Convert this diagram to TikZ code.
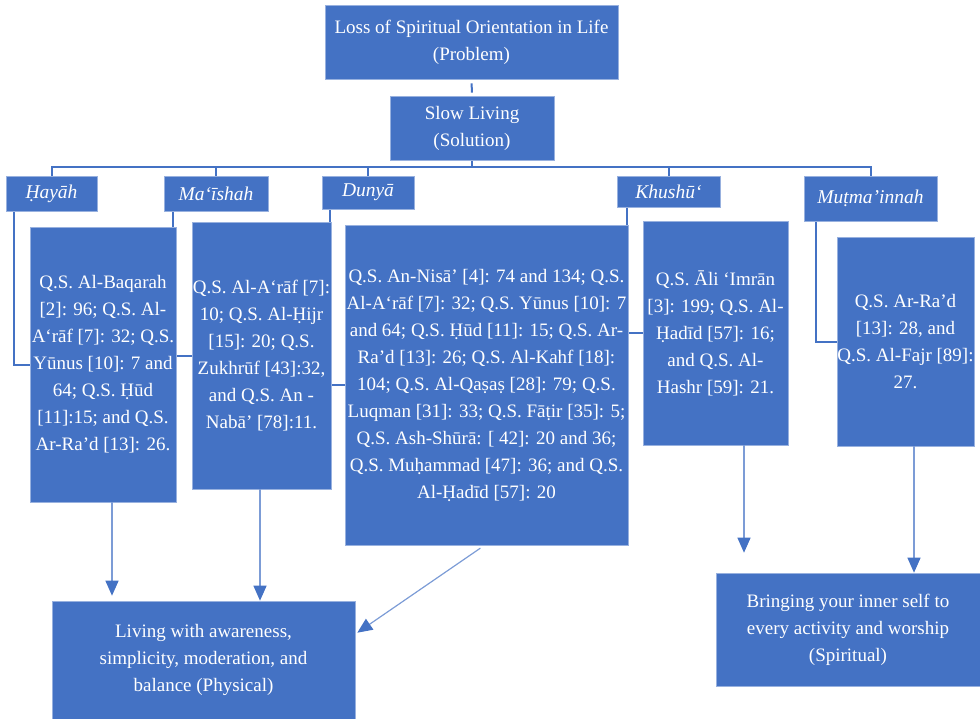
\documentclass[tikz,border=0pt]{standalone}
\usepackage{fontspec}
\setmainfont{Liberation Serif}
\usetikzlibrary{arrows.meta,calc,backgrounds}
\definecolor{boxblue}{HTML}{4472C4}
\begin{document}
\begin{tikzpicture}[x=1pt,y=-1pt,
  blk/.style={fill=boxblue, draw=boxblue!55!white, line width=0.6pt, text=white, align=center, inner sep=0pt, font=\fontsize{19}{27}\selectfont},
  cat/.style={blk, font=\fontsize{19.5}{27}\selectfont\itshape},
  conn/.style={draw=boxblue, line width=2pt},
  arr/.style={draw=boxblue!70!white, line width=1.2pt, -{Triangle[length=15pt,width=13pt,color=boxblue]}}]
\useasboundingbox (0,0) rectangle (980,718);
% top level
\node[blk, minimum width=293pt, minimum height=74pt] (top) at (471.5,42) {Loss of Spiritual Orientation in Life\\(Problem)};
\node[blk, minimum width=164pt, minimum height=64pt] (slow) at (472,128) {Slow Living\\(Solution)};
% categories
\node[cat, minimum width=91pt, minimum height=35pt] (hayah) at (51.5,193.5) {Ḥayāh};
\node[cat, minimum width=104pt, minimum height=35pt] (maishah) at (216,193.5) {Ma‘īshah};
\node[cat, minimum width=92pt, minimum height=33pt] (dunya) at (368,192.5) {Dunyā};
\node[cat, minimum width=103pt, minimum height=31pt] (khushu) at (668.5,191.5) {Khushū‘};
\node[cat, minimum width=133pt, minimum height=45pt] (mutma) at (870.5,198.5) {Muṭma’innah};
% verse boxes
\node[blk, minimum width=146pt, minimum height=275pt] (b1) at (103,364.5) {Q.S. Al-Baqarah\\{}[2]: 96; Q.S. Al-\\A‘rāf [7]: 32; Q.S.\\Yūnus [10]: 7 and\\64; Q.S. Ḥūd\\{}[11]:15; and Q.S.\\Ar-Ra'd [13]: 26.};
\node[blk, minimum width=139pt, minimum height=267pt] (b2) at (261.5,355.5) {Q.S. Al-A‘rāf [7]:\\10; Q.S. Al-Ḥijr\\{}[15]: 20; Q.S.\\Zukhrūf [43]:32,\\and Q.S. An -\\Nabā’ [78]:11.};
\node[blk, minimum width=283pt, minimum height=320pt] (b3) at (486.5,385) {Q.S. An-Nisā’ [4]: 74 and 134; Q.S.\\Al-A‘rāf [7]: 32; Q.S. Yūnus [10]: 7\\and 64; Q.S. Ḥūd [11]: 15; Q.S. Ar-\\Ra'd [13]: 26; Q.S. Al-Kahf [18]:\\104; Q.S. Al-Qaṣaṣ [28]: 79; Q.S.\\Luqman [31]: 33; Q.S. Fāṭir [35]: 5;\\Q.S. Ash-Shūrā: [ 42]: 20 and 36;\\Q.S. Muḥammad [47]: 36; and Q.S.\\Al-Ḥadīd [57]: 20};
\node[blk, minimum width=145pt, minimum height=224pt] (b4) at (715.5,333) {Q.S. Āli ‘Imrān\\{}[3]: 199; Q.S. Al-\\Ḥadīd [57]: 16;\\and Q.S. Al-\\Hashr [59]: 21.};
\node[blk, minimum width=137pt, minimum height=209pt] (b5) at (905.5,341.5) {Q.S. Ar-Ra'd\\{}[13]: 28, and\\Q.S. Al-Fajr [89]:\\27.};
% outcomes
\node[blk, minimum width=303pt, minimum height=118pt] (phys) at (203.5,660) {Living with awareness,\\simplicity, moderation, and\\balance (Physical)};
\node[blk, minimum width=264pt, minimum height=113pt] (spir) at (848,629.5) {Bringing your inner self to\\every activity and worship\\(Spiritual)};
% connectors behind boxes
\begin{pgfonlayer}{background}
\coordinate (bus) at (472,167);
\draw[conn, shorten <=4pt, shorten >=3pt] (top.south) -- (slow.north);
\draw[conn] (slow.south) -- (slow.south |- bus);
\draw[conn] (hayah.north) -- (hayah.north |- bus) -- (mutma.north |- bus) -- (mutma.north);
\draw[conn] (maishah.north |- bus) -- (maishah.north);
\draw[conn] (dunya.north |- bus) -- (dunya.north);
\draw[conn] (khushu.north |- bus) -- (khushu.north);
\coordinate (e1) at ($(hayah.south west)+(8,0)$);
\coordinate (e2) at ($(maishah.south west)+(9,0)$);
\coordinate (e3) at ($(dunya.south west)+(8,0)$);
\coordinate (e4) at ($(khushu.south west)+(10,0)$);
\coordinate (e5) at ($(mutma.south west)+(12,0)$);
\draw[conn] (e1) |- (b1.west);
\draw[conn] (e2) |- (b2.west);
\draw[conn] (e3) |- (b3.west);
\draw[conn] (e4) |- (b4.west);
\draw[conn] (e5) |- (b5.west);
\end{pgfonlayer}
% arrows
\coordinate (a1) at ($(b1.south)+(9,0)$);
\coordinate (a2) at ($(b2.south)+(-1.5,0)$);
\coordinate (a3) at ($(b3.south)+(-2,0)$);
\coordinate (a3e) at ($(phys.north east)+(2,32)$);
\coordinate (a4) at ($(b4.south)+(28.5,0)$);
\coordinate (a5) at ($(b5.south)+(8.5,0)$);
\draw[arr, shorten >=5pt] (a1) -- (a1 |- phys.north);
\draw[arr] (a2) -- (a2 |- phys.north);
\draw[arr, shorten <=5pt] (a3) -- (a3e);
\draw[arr, shorten >=20pt] (a4) -- (a4 |- spir.north);
\draw[arr] (a5) -- (a5 |- spir.north);
\end{tikzpicture}
\end{document}
